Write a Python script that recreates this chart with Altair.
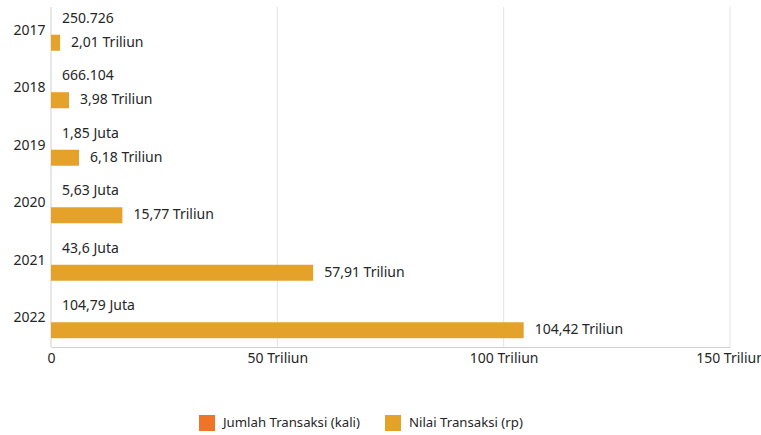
import altair as alt
import pandas as pd

years = ["2017", "2018", "2019", "2020", "2021", "2022"]
series = ["Jumlah Transaksi (kali)", "Nilai Transaksi (rp)"]
# Jumlah transaksi (kali)
jumlah = [250726, 666104, 1850000, 5630000, 43600000, 104790000]
jumlah_labels = ["250.726", "666.104", "1,85 Juta", "5,63 Juta", "43,6 Juta", "104,79 Juta"]
# Nilai transaksi (triliun rupiah)
nilai = [2.01, 3.98, 6.18, 15.77, 57.91, 104.42]
nilai_labels = ["2,01 Triliun", "3,98 Triliun", "6,18 Triliun", "15,77 Triliun", "57,91 Triliun", "104,42 Triliun"]
grid_vals = [50, 100, 150]
colors = ["#F07427", "#E5A22A"]

rows = []
for i, y in enumerate(years):
    rows.append({"year": y, "series": series[0], "val": jumlah[i] / 1e12, "label": jumlah_labels[i]})
    rows.append({"year": y, "series": series[1], "val": nilai[i], "label": nilai_labels[i]})
df = pd.DataFrame(rows)

FONT = "Noto Sans"
TXT = "#262626"

xs = alt.X("val:Q", scale=alt.Scale(domain=[0, 150], nice=False),
           axis=alt.Axis(title=None, values=[0, 50, 100, 150], ticks=False, grid=False,
                         domainColor="#d0d0d0", labelPadding=4, labelFlush=False,
                         labelFontSize=14, labelColor=TXT, labelFont=FONT,
                         labelExpr="datum.value == 0 ? '0' : datum.value + ' Triliun'"))
ys = alt.Y("year:N", sort=years, scale=alt.Scale(paddingInner=0.2, paddingOuter=0.1),
           axis=alt.Axis(title=None, ticks=False, domain=False, labelPadding=6,
                         labelFontSize=14, labelColor=TXT, labelFont=FONT))
yo = alt.YOffset("series:N", sort=series, scale=alt.Scale(paddingInner=0.33, paddingOuter=0.125))

base = alt.Chart(df)

bars = base.mark_bar().encode(
    y=ys, yOffset=yo, x=xs,
    color=alt.Color("series:N", sort=series,
                    scale=alt.Scale(domain=series, range=colors),
                    legend=alt.Legend(title=None, orient="none", direction="horizontal",
                                      legendX=148, legendY=413, symbolType="square",
                                      symbolSize=256, symbolStrokeWidth=0,
                                      labelFontSize=13.2, labelFont=FONT, labelColor=TXT,
                                      columnPadding=25, labelOffset=8)),
)

texts = base.mark_text(align="left", baseline="middle", dx=11, fontSize=14,
                       font=FONT, color=TXT).encode(
    y=ys, yOffset=yo, x=xs, text="label:N")

grid = alt.Chart(pd.DataFrame({"g": grid_vals})).mark_rule(color="#e3e3e3", strokeWidth=1).encode(
    x=alt.X("g:Q"), y=alt.value(5), y2=alt.value(345))

yaxis = alt.Chart(pd.DataFrame({"g": [0]})).mark_rule(color="#d0d0d0", strokeWidth=1).encode(
    x=alt.X("g:Q"), y=alt.value(5), y2=alt.value(345))

chart = alt.layer(grid, yaxis, bars, texts).properties(
    width=679, height=345,
    autosize=alt.AutoSizeParams(type="none"),
    padding={"left": 51, "top": 2, "right": 31, "bottom": 88},
).configure_view(stroke=None)

chart.save("out.html", embed_options={"renderer": "svg", "actions": False})
